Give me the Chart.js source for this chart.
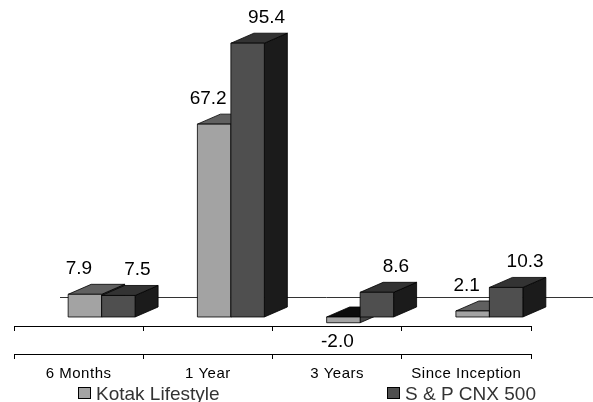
<!DOCTYPE html>
<html>
<head>
<meta charset="utf-8">
<title>Kotak Lifestyle vs S &amp; P CNX 500</title>
<script src="https://cdn.jsdelivr.net/npm/chart.js@4/dist/chart.umd.min.js"></script>
<style>
  html, body { margin: 0; padding: 0; background: #fff; }
  canvas { display: block; }
</style>
</head>
<body>
<canvas id="returns" width="593" height="402"></canvas>
<script>
// Returns (%) for each period
const periods = ['6 Months', '1 Year', '3 Years', 'Since Inception'];
const kotakReturns = [7.9, 67.2, -2.0, 2.1];
const cnxReturns = [7.5, 95.4, 8.6, 10.3];
const seriesNames = ['Kotak Lifestyle', 'S & P CNX 500'];

// shades for the three visible faces of each box
const kotakShades = { front: '#a3a3a3', top: '#606060', side: '#474747' };
const cnxShades = { front: '#4f4f4f', top: '#333333', side: '#1b1b1b' };
const shades = [kotakShades, cnxShades];

const FONT = "'Liberation Sans', Arial, sans-serif";
const DEPTH_X = 23;   // how far the back of a box sits to the right
const DEPTH_Y = -10;  // ... and up
const LABEL_SHIFT = [-6, 19];

function face(ctx, pts, fill) {
    ctx.beginPath();
    ctx.moveTo(pts[0][0], pts[0][1]);
    for (let k = 1; k < pts.length; k++) ctx.lineTo(pts[k][0], pts[k][1]);
    ctx.closePath();
    ctx.fillStyle = fill;
    ctx.fill();
    ctx.stroke();
}

function drawBox(ctx, left, right, top, bottom, negative, shade) {
    // right side, then the top (a cap at zero for negative bars), then the front
    face(ctx, [[right, top], [right + DEPTH_X, top + DEPTH_Y], [right + DEPTH_X, bottom + DEPTH_Y], [right, bottom]], shade.side);
    face(ctx, [[left, top], [left + DEPTH_X, top + DEPTH_Y], [right + DEPTH_X, top + DEPTH_Y], [right, top]], negative ? '#0c0c0c' : shade.top);
    face(ctx, [[left, top], [right, top], [right, bottom], [left, bottom]], shade.front);
}

const boxes3d = {
    id: 'boxes3d',
    beforeDraw(chart) {
        // category labels are set with a little tracking
        chart.ctx.letterSpacing = '0.5px';
    },
    beforeDatasetsDraw(chart) {
        const ctx = chart.ctx;
        const zero = chart.scales.y.getPixelForValue(0);
        const metas = chart.data.datasets.map((ds, i) => chart.getDatasetMeta(i));
        ctx.save();
        ctx.letterSpacing = '0px';

        // floor line behind the boxes
        ctx.strokeStyle = '#333';
        ctx.lineWidth = 1;
        const fy = Math.round(zero + 2 * DEPTH_Y) + 0.5;
        ctx.beginPath();
        ctx.moveTo(chart.chartArea.left + 2 * DEPTH_X, fy);
        ctx.lineTo(chart.width, fy);
        ctx.stroke();

        ctx.strokeStyle = '#000';
        ctx.lineWidth = 0.8;
        ctx.lineJoin = 'round';
        periods.forEach((p, j) => {
            metas.forEach((meta, i) => {
                const { x, y, base, width } = meta.data[j].getProps(['x', 'y', 'base', 'width'], true);
                const left = x - width / 2 + DEPTH_X;
                drawBox(ctx, left, left + width, Math.min(y, base), Math.max(y, base), y > base, shades[i]);
            });
        });

        // value labels
        ctx.font = `19px ${FONT}`;
        ctx.fillStyle = '#000';
        ctx.textAlign = 'center';
        ctx.textBaseline = 'alphabetic';
        metas.forEach((meta, i) => {
            const values = chart.data.datasets[i].data;
            meta.data.forEach((bar, j) => {
                const { x, y } = bar.getProps(['x', 'y'], true);
                const v = values[j];
                ctx.fillText(v.toFixed(1), x + DEPTH_X + LABEL_SHIFT[i], v < 0 ? y + 24 : y - 20);
            });
        });
        ctx.restore();
        return false;
    },
    afterDraw(chart) {
        const ctx = chart.ctx;
        const slots = [78, 387];
        ctx.save();
        ctx.letterSpacing = '0px';
        ctx.font = `19px ${FONT}`;
        ctx.textAlign = 'left';
        ctx.textBaseline = 'alphabetic';
        ctx.lineWidth = 1;
        ctx.strokeStyle = '#000';
        chart.data.datasets.forEach((ds, i) => {
            const bx = slots[i];
            ctx.fillStyle = ds.backgroundColor;
            ctx.fillRect(bx + 0.5, 387.5, 12, 11);
            ctx.strokeRect(bx + 0.5, 387.5, 12, 11);
            ctx.fillStyle = '#333';
            ctx.fillText(ds.label, bx + 18, 400);
        });
        ctx.restore();
    }
};

const axisGrid = {
    offset: true,
    drawOnChartArea: false,
    drawTicks: true,
    tickLength: 5,
    color: '#000',
    lineWidth: 1
};

new Chart(document.getElementById('returns'), {
    type: 'bar',
    data: {
        labels: periods,
        datasets: [
            { label: seriesNames[0], data: kotakReturns, backgroundColor: kotakShades.front },
            { label: seriesNames[1], data: cnxReturns, backgroundColor: cnxShades.front }
        ]
    },
    options: {
        responsive: false,
        animation: false,
        layout: { padding: { top: 30, left: 14, right: 62, bottom: 21 } },
        datasets: { bar: { categoryPercentage: 0.518, barPercentage: 1 } },
        plugins: {
            legend: { display: false },
            tooltip: { enabled: false }
        },
        scales: {
            y: { display: false, min: -3.137, max: 100 },
            x: {
                weight: 0,
                offset: true,
                grid: axisGrid,
                border: { color: '#000', width: 1 },
                ticks: { display: false },
                afterFit(scale) { scale.height = 28; }
            },
            x2: {
                type: 'category',
                labels: periods,
                position: 'bottom',
                weight: 1,
                offset: true,
                grid: axisGrid,
                border: { color: '#000', width: 1 },
                ticks: { padding: 6, color: '#000', font: { family: FONT, size: 15 } },
                afterFit(scale) { scale.height = 27; }
            }
        }
    },
    plugins: [boxes3d]
});
</script>
</body>
</html>
